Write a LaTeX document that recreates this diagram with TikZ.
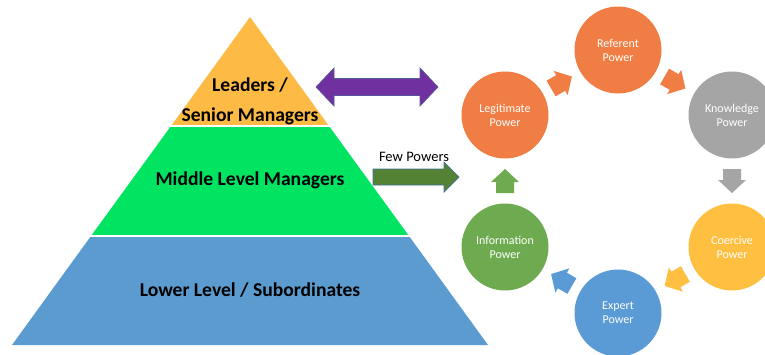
\documentclass[tikz,border=0pt]{standalone}
\usepackage{fontspec}
\setmainfont{Carlito}
\usetikzlibrary{calc}
\definecolor{pyrTop}{HTML}{FDBA45}
\definecolor{pyrMid}{HTML}{00E462}
\definecolor{pyrLow}{HTML}{5B9BD0}
\definecolor{cOrange}{HTML}{F07E44}
\definecolor{cGray}{HTML}{A5A5A5}
\definecolor{cYellow}{HTML}{FFBF40}
\definecolor{cBlue}{HTML}{5B9BD5}
\definecolor{cGreen}{HTML}{6EAA50}
\definecolor{arPurple}{HTML}{7030A0}
\definecolor{arGreen}{HTML}{548235}
\definecolor{arEdge}{HTML}{41719C}
\tikzset{
  circ/.style={circle, minimum size=87pt, inner sep=0pt, align=center, text=white,
    font=\fontsize{12}{14}\selectfont},
  pyrtext/.style={font=\fontsize{19.6}{30}\selectfont\bfseries, align=center, text=black},
  cyc/.pic={\fill[pic actions] (-12,-9) -- (-1,-9) -- (-1,-14) -- (12,0) -- (-1,14) -- (-1,9) -- (-12,9) -- cycle;}
}
\begin{document}
\begin{tikzpicture}[x=1pt,y=-1pt]
\clip (0,0) rectangle (765,354);
% pyramid
\coordinate (apex) at (250,17);
\fill[pyrTop] (apex) -- (329,126) -- (171,126) -- cycle;
\fill[pyrMid] (171,126) -- (329,126) -- (409,236) -- (91,236) -- cycle;
\fill[pyrLow] (91,236) -- (409,236) -- (488,345) -- (12,345) -- cycle;
\draw[white, line width=1.5pt] (160,126) -- (340,126);
\draw[white, line width=1.5pt] (80,236) -- (420,236);
\node[pyrtext] (lead) at (250,101) {Leaders /\\Senior Managers};
\node[pyrtext] (mid) at (250,180) {Middle Level Managers};
\node[pyrtext] (low) at (250,290) {Lower Level / Subordinates};
% purple double arrow
\coordinate (pa) at (316,87);
\coordinate (pb) at (438,87);
\filldraw[fill=arPurple, draw=arEdge!60!arPurple, line width=0.7pt]
  (pa) -- (334,68) -- (334,78.5) -- (420,78.5) -- (420,68) -- (pb) -- (420,106) -- (420,95.5) -- (334,95.5) -- (334,106) -- cycle;
% green arrow
\coordinate (ga) at (373,177);
\coordinate (gb) at (459,177);
\filldraw[fill=arGreen, draw=arEdge, line width=0.7pt]
  (ga) ++(0,-8) -- (444,169) -- (444,162) -- (gb) -- (444,192) -- (444,185) -- (373,185) -- cycle;
\node[font=\fontsize{14.5}{16}\selectfont] (few) at (414,157) {Few Powers};
% circles
\node[circ, fill=cOrange] (leg) at (505,115) {Legitimate\\Power};
\node[circ, fill=cOrange] (ref) at (618,50) {Referent\\Power};
\node[circ, fill=cGray] (kno) at (732,115) {Knowledge\\Power};
\node[circ, fill=cYellow] (coe) at (732,247) {Coercive\\Power};
\node[circ, fill=cBlue] (exp) at (618,313) {Expert\\Power};
\node[circ, fill=cGreen] (inf) at (505,247) {Information\\Power};
% cycle arrows
\pic[fill=cOrange, rotate=30] at ($(leg)!0.5!(ref)$) {cyc};
\pic[fill=cOrange, rotate=-30] at ($(ref)!0.5!(kno)$) {cyc};
\pic[fill=cGray, rotate=-90] at ($(kno)!0.5!(coe)$) {cyc};
\pic[fill=cYellow, rotate=-150] at ($(coe)!0.5!(exp)$) {cyc};
\pic[fill=cBlue, rotate=150] at ($(exp)!0.5!(inf)$) {cyc};
\pic[fill=cGreen, rotate=90] at ($(inf)!0.5!(leg)$) {cyc};
\end{tikzpicture}
\end{document}
